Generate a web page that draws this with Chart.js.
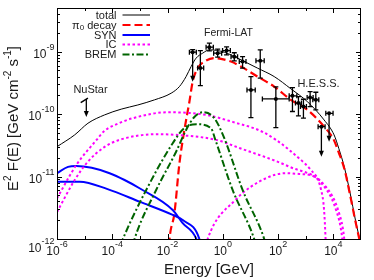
<!DOCTYPE html>
<html><head><meta charset="utf-8">
<script src="https://cdn.jsdelivr.net/npm/chart.js@4/dist/chart.umd.min.js"></script>
<style>html,body{margin:0;padding:0;background:#fff}canvas{display:block}</style>
</head><body>
<canvas id="c" width="374" height="280"></canvas>
<script>
// ---- curve values (E [GeV], E^2 F(E) [GeV cm^-2 s^-1]) ----
const totalE = [1e-6, 4.37e-6, 1.32e-5, 5.25e-5, 2.11e-4, 8.4e-4, 3.37e-3, 0.0135, 0.0269, 0.0469, 0.0711, 0.108, 0.187, 0.326, 1.13, 4.54, 18.0, 72.3, 290, 1151, 4613, 1.06e4, 1.58e4, 2.51e4, 3.98e4, 6.31e4, 1e5];
const totalF = [3.01e-11, 4.65e-11, 7.14e-11, 9.7e-11, 1.2e-10, 1.40e-10, 1.69e-10, 2.16e-10, 2.76e-10, 3.99e-10, 5.77e-10, 7.87e-10, 9.46e-10, 1.07e-9, 9.8e-10, 7.4e-10, 5.45e-10, 3.99e-10, 2.54e-10, 1.58e-10, 8.07e-11, 4.65e-11, 2.8e-11, 1.4e-11, 5.6e-12, 2.0e-12, 7.9e-13];

const piE = [0.0107, 0.0117, 0.01774, 0.0269, 0.0407, 0.0618, 0.0813, 0.123, 0.215, 0.493, 0.861, 1.98, 4.54, 18.0, 72.3, 290, 1151, 4613, 1e4, 1.58e4, 2.51e4, 3.98e4, 6.31e4, 1e5];
const piF = [5e-13, 9.6e-13, 2.58e-12, 1.63e-11, 5.58e-11, 1.58e-10, 3.32e-10, 5.45e-10, 6.93e-10, 7.87e-10, 7.67e-10, 6.93e-10, 5.77e-10, 3.99e-10, 2.76e-10, 1.69e-10, 1.17e-10, 6.3e-11, 4.0e-11, 2.4e-11, 1.32e-11, 5.2e-12, 1.9e-12, 7.6e-13];

const synUpE = [1e-6, 2.5e-6, 5.0e-6, 1.8e-5, 8.0e-5, 2.78e-4, 9.7e-4, 0.0154, 0.0354, 0.110, 0.126];
const synUpF = [1.13e-11, 1.43e-11, 1.48e-11, 1.38e-11, 1.13e-11, 8.8e-12, 6.5e-12, 2.92e-12, 1.79e-12, 1e-12, 8e-13];
const synLoE = [1e-6, 6.6e-6, 6.76e-5, 9.7e-4, 0.0154, 0.0354, 0.142, 0.158];
const synLoF = [8.28e-12, 8.28e-12, 6.3e-12, 3.96e-12, 2.43e-12, 2.01e-12, 1e-12, 8e-13];

const icAE = [1e-6, 5.0e-6, 2.71e-5, 5.25e-5, 1.84e-4, 5.55e-4, 9.9e-3, 0.248, 2.26, 27.4, 252, 3048, 1.25e4, 2.06e4, 2.24e4];
const icAF = [4.49e-12, 1.53e-11, 3.87e-11, 5.4e-11, 7.2e-11, 8.6e-11, 1.07e-10, 9.7e-11, 7.5e-11, 5.19e-11, 2.67e-11, 8.8e-12, 2.92e-12, 1.08e-12, 7e-13];
const icBE = [1e-6, 4.37e-6, 1.28e-5, 5.25e-5, 1.84e-4, 3.97e-3, 0.0481, 0.569, 3.94, 252, 5321, 1.61e4, 2.43e4, 2.63e4];
const icBF = [2.7e-12, 8.8e-12, 1.71e-11, 2.98e-11, 3.87e-11, 4.77e-11, 4.52e-11, 3.87e-11, 2.87e-11, 1.44e-11, 6.9e-12, 2.61e-12, 1.08e-12, 7e-13];
const icCE = [0.25, 0.282, 2.82, 36.3, 191, 578, 2317, 3597, 4613, 5224, 5370];
const icCF = [8e-13, 1e-12, 4.2e-12, 9.4e-12, 1.13e-11, 1.1e-11, 9.7e-12, 6.1e-12, 2.92e-12, 1e-12, 7e-13];

const brem1E = [2.0e-4, 2.42e-4, 1.69e-3, 0.0154, 0.0407, 0.110, 0.375, 0.536, 2.26, 13.7, 15.8];
const brem1F = [8e-13, 1e-12, 6.1e-12, 3.42e-11, 6.0e-11, 6.9e-11, 5.94e-11, 3.87e-11, 6.1e-12, 1e-12, 8e-13];
const brem2E = [5.6e-4, 6.38e-4, 3.87e-3, 0.0204, 0.0469, 0.0935, 0.187, 0.493, 1.13, 5.19, 31.5, 36];
const brem2F = [8e-13, 1e-12, 6.1e-12, 2.5e-11, 5.58e-11, 9.0e-11, 1.07e-10, 8.6e-11, 4.11e-11, 6.1e-12, 1e-12, 8e-13];

// ---- measured points ----
const fermiE   = [0.081, 0.154, 0.326, 0.65, 1.37, 2.6, 5.19, 10.4, 22.6, 83];
const fermiF   = [9.8e-10, 5.45e-10, 1.18e-9, 9.46e-10, 1.04e-9, 8.26e-10, 6.94e-10, 2.44e-10, 7.13e-10, 1.75e-10];
const fermiFlo = [3.3e-10, 2.86e-10, 1.03e-9, 8.2e-10, 8.9e-10, 7.1e-10, 5.45e-10, 8.79e-11, 3.76e-10, 6.08e-11];
const fermiFhi = [1.08e-9, 1.04e-9, 1.37e-9, 1.1e-9, 1.19e-9, 9.6e-10, 8.3e-10, 3.99e-10, 1.07e-9, 2.73e-10];
const fermiElo = [0.0618, 0.123, 0.248, 0.466, 0.98, 1.98, 3.94, 7.48, 15.8, 27];
const fermiEhi = [0.110, 0.203, 0.454, 0.906, 1.87, 3.42, 6.89, 14.9, 31.5, 252];
const fermiUL  = [true, false, false, false, false, false, false, false, false, false];

const hessE   = [331, 545, 826, 1442, 2317, 3690, 7000];
const hessF   = [1.96e-10, 1.50e-10, 1.32e-10, 1.84e-10, 1.69e-10, 6.3e-11, 1.03e-10];
const hessFlo = [1.10e-10, 9.35e-11, 8.6e-11, 1.32e-10, 1.17e-10, 2.08e-11, 3.6e-11];
const hessFhi = [2.66e-10, 1.91e-10, 1.73e-10, 2.29e-10, 2.24e-10, 6.3e-11, 1.03e-10];
const hessElo = [252, 425, 644, 1125, 1803, 2805, 5321];
const hessEhi = [478, 700, 1059, 1849, 2972, 5012, 9750];
const hessUL  = [false, false, false, false, false, true, true];

const nustarSegE = [7.2e-6, 1.32e-5];
const nustarSegF = [1.53e-10, 1.80e-10];
const nustarArrowE = [1.15e-5];
const nustarArrowF = [1.75e-10, 9.0e-11];

// ---- ticks / labels ----
const xTickVals = [1e-6, 1e-4, 1e-2, 1, 1e2, 1e4];
const xTickExp  = ['-6', '-4', '-2', '0', '2', '4'];
const xMinorTicks = [1e-5, 1e-3, 1e-1, 1e1, 1e3];
const yTickVals = [1e-12, 1e-11, 1e-10, 1e-9];
const yTickExp  = ['-12', '-11', '-10', '-9'];
const legendLabels = ['total', 'π', 'SYN', 'IC', 'BREM'];

const FONT = "'Liberation Sans', Arial, Helvetica, sans-serif";
const TXT = '#1a1a1a';
const RED = '#ff0000', BLUE = '#0000ff', MAG = '#ff00ff', GREEN = '#006400';

function pts(E, F) { return E.map((e, i) => ({ x: e, y: F[i] })); }
function line(E, F, color, width, dash) {
  return { data: pts(E, F), showLine: true, borderColor: color, backgroundColor: color,
    borderWidth: width, borderDash: dash || [], pointRadius: 0, cubicInterpolationMode: 'monotone', fill: false };
}

const datasets = [
  { data: pts(fermiE, fermiF).concat(pts(hessE, hessF)), showLine: false, pointRadius: 2, pointBackgroundColor: '#000', pointBorderColor: '#000', borderWidth: 0 },
  line(brem2E, brem2F, GREEN, 2, [7, 2.5, 2, 2.5]),
  line(brem1E, brem1F, GREEN, 2, [7, 2.5, 2, 2.5]),
  line(icCE, icCF, MAG, 2, [2.5, 2.5]),
  line(icBE, icBF, MAG, 2, [2.5, 2.5]),
  line(icAE, icAF, MAG, 2, [2.5, 2.5]),
  line(synLoE, synLoF, BLUE, 2),
  line(synUpE, synUpF, BLUE, 2),
  line(piE, piF, RED, 2.2, [8, 4]),
  line(nustarSegE, nustarSegF, '#000', 1.5),
  line(totalE, totalF, '#000', 1),
];
datasets[9].cubicInterpolationMode = 'default';

function supText(ctx, parts, x, y, align) {
  // parts: [{t, size, dy}]
  let w = 0;
  parts.forEach(p => { ctx.font = p.size + 'px ' + FONT; p.w = ctx.measureText(p.t).width; w += p.w; });
  let cx = align === 'right' ? x - w : (align === 'center' ? x - w / 2 : x);
  parts.forEach(p => { ctx.font = p.size + 'px ' + FONT; ctx.fillText(p.t, cx, y + (p.dy || 0)); cx += p.w; });
  return w;
}

function arrowDown(ctx, x, y0, y1) {
  ctx.beginPath(); ctx.moveTo(x, y0); ctx.lineTo(x, y1 - 5); ctx.stroke();
  ctx.beginPath(); ctx.moveTo(x - 2.5, y1 - 6); ctx.lineTo(x + 2.5, y1 - 6); ctx.lineTo(x, y1); ctx.closePath(); ctx.fill();
}

const drawPlugin = {
  id: 'decor',
  afterDraw(chart) {
    const ctx = chart.ctx, xs = chart.scales.x, ys = chart.scales.y, a = chart.chartArea;
    const fx = v => xs.getPixelForValue(v), fy = v => ys.getPixelForValue(v);
    ctx.save();
    ctx.strokeStyle = '#000'; ctx.fillStyle = '#000'; ctx.lineWidth = 1.3; ctx.setLineDash([]);
    function errs(E, F, Flo, Fhi, Elo, Ehi, UL) {
      E.forEach((e, i) => {
        const x = fx(e), y = fy(F[i]);
        ctx.beginPath(); ctx.moveTo(fx(Elo[i]), y); ctx.lineTo(fx(Ehi[i]), y);
        ctx.moveTo(fx(Elo[i]), y - 2.5); ctx.lineTo(fx(Elo[i]), y + 2.5);
        ctx.moveTo(fx(Ehi[i]), y - 2.5); ctx.lineTo(fx(Ehi[i]), y + 2.5);
        ctx.stroke();
        if (UL[i]) {
          if (Fhi[i] > F[i]) { ctx.beginPath(); ctx.moveTo(x, fy(Fhi[i])); ctx.lineTo(x, y);
            ctx.moveTo(x - 2.5, fy(Fhi[i])); ctx.lineTo(x + 2.5, fy(Fhi[i])); ctx.stroke(); }
          arrowDown(ctx, x, y, fy(Flo[i]));
        } else {
          const yl = fy(Flo[i]), yh = fy(Fhi[i]);
          ctx.beginPath(); ctx.moveTo(x, yh); ctx.lineTo(x, yl);
          ctx.moveTo(x - 2.5, yh); ctx.lineTo(x + 2.5, yh);
          ctx.moveTo(x - 2.5, yl); ctx.lineTo(x + 2.5, yl);
          ctx.stroke();
        }
      });
    }
    errs(fermiE, fermiF, fermiFlo, fermiFhi, fermiElo, fermiEhi, fermiUL);
    errs(hessE, hessF, hessFlo, hessFhi, hessElo, hessEhi, hessUL);
    arrowDown(ctx, fx(nustarArrowE[0]), fy(nustarArrowF[0]), fy(nustarArrowF[1]));

    // frame & ticks
    ctx.lineWidth = 1; ctx.strokeStyle = '#000';
    ctx.strokeRect(Math.round(a.left) + 0.5, Math.round(a.top) + 0.5, Math.round(a.right - a.left) - 1, Math.round(a.bottom - a.top));
    ctx.beginPath();
    xTickVals.forEach(v => { const x = Math.round(fx(v)) + 0.5; ctx.moveTo(x, a.bottom); ctx.lineTo(x, a.bottom - 5); ctx.moveTo(x, a.top); ctx.lineTo(x, a.top + 5); });
    xMinorTicks.forEach(v => { const x = Math.round(fx(v)) + 0.5; ctx.moveTo(x, a.bottom); ctx.lineTo(x, a.bottom - 3); ctx.moveTo(x, a.top); ctx.lineTo(x, a.top + 3); });
    yTickVals.forEach(v => {
      const y = Math.round(fy(v)) + 0.5;
      ctx.moveTo(a.left, y); ctx.lineTo(a.left + 5, y); ctx.moveTo(a.right, y); ctx.lineTo(a.right - 5, y);
      for (let m = 2; m <= 9; m++) {
        const vv = v * m; if (vv > ys.max) break;
        const ym = Math.round(fy(vv)) + 0.5;
        ctx.moveTo(a.left, ym); ctx.lineTo(a.left + 3, ym); ctx.moveTo(a.right, ym); ctx.lineTo(a.right - 3, ym);
      }
    });
    [1e-9 * 2, 1e-9 * 3, 1e-9 * 4, 1e-9 * 5].forEach(() => {});
    ctx.stroke();

    // tick labels
    ctx.fillStyle = TXT; ctx.textBaseline = 'alphabetic';
    xTickVals.forEach((v, i) => {
      supText(ctx, [{ t: '10', size: 12 }, { t: xTickExp[i], size: 9, dy: -8 }], fx(v), a.bottom + 15.5, 'center');
    });
    yTickVals.forEach((v, i) => {
      const off = i === 0 ? 12.5 : 6;
      supText(ctx, [{ t: '10', size: 12 }, { t: yTickExp[i], size: 9, dy: -8 }], a.left - 2.5, fy(v) + off, 'right');
    });

    // axis titles
    ctx.font = '15px ' + FONT; ctx.textAlign = 'center';
    ctx.fillText('Energy [GeV]', (a.left + a.right) / 2, 274);
    ctx.textAlign = 'left';
    ctx.save();
    ctx.translate(17.5, 118.5); ctx.rotate(-Math.PI / 2);
    supText(ctx, [{ t: 'E', size: 15 }, { t: '2', size: 10, dy: -7 }, { t: ' F(E) [GeV cm', size: 15 }, { t: '-2', size: 10, dy: -7 },
      { t: ' s', size: 15 }, { t: '-1', size: 10, dy: -7 }, { t: ']', size: 15 }], 0, 0, 'center');
    ctx.restore();

    // annotations
    ctx.textBaseline = 'middle'; ctx.fillStyle = '#222';
    ctx.font = '10.5px ' + FONT; ctx.textAlign = 'center';
    ctx.fillText('Fermi-LAT', 228.5, 33.5);
    ctx.font = '11px ' + FONT;
    ctx.fillText('H.E.S.S.', 318.5, 83.5);
    ctx.fillText('NuStar', 90.5, 89.5);

    // legend
    const rows = [15, 25, 35, 44.5, 54.5];
    const styles = [['#000', 1, []], [RED, 2.2, [8, 4]], [BLUE, 2, []], [MAG, 2, [2.5, 2.5]], [GREEN, 2, [7, 2.5, 2, 2.5]]];
    ctx.textAlign = 'left'; ctx.textBaseline = 'middle'; ctx.fillStyle = TXT;
    rows.forEach((y, i) => {
      if (i === 1) {
        supText(ctx, [{ t: legendLabels[1], size: 11 }, { t: '0', size: 8, dy: 2.5 }, { t: ' decay', size: 11 }], 116.5, y + 0.5, 'right');
      } else {
        supText(ctx, [{ t: legendLabels[i], size: 11 }], 116.5, y + 0.5, 'right');
      }
      ctx.strokeStyle = styles[i][0]; ctx.lineWidth = styles[i][1]; ctx.setLineDash(styles[i][2]);
      ctx.beginPath(); ctx.moveTo(122.5, y); ctx.lineTo(150, y); ctx.stroke();
    });
    ctx.setLineDash([]);
    ctx.restore();
  }
};

new Chart(document.getElementById('c').getContext('2d'), {
  type: 'scatter',
  data: { datasets },
  options: {
    responsive: false, animation: false, devicePixelRatio: 1,
    layout: { padding: { top: 8, right: 13, left: 0, bottom: 0 } },
    plugins: { legend: { display: false }, tooltip: { enabled: false } },
    scales: {
      x: { type: 'logarithmic', min: 1e-6, max: 1e5, ticks: { display: false }, grid: { display: false }, border: { display: false },
           afterFit(s) { s.height = 41; } },
      y: { type: 'logarithmic', min: 1e-12, max: 5e-9, ticks: { display: false }, grid: { display: false }, border: { display: false },
           afterFit(s) { s.width = 57; } }
    }
  },
  plugins: [drawPlugin]
});
</script>
</body></html>
